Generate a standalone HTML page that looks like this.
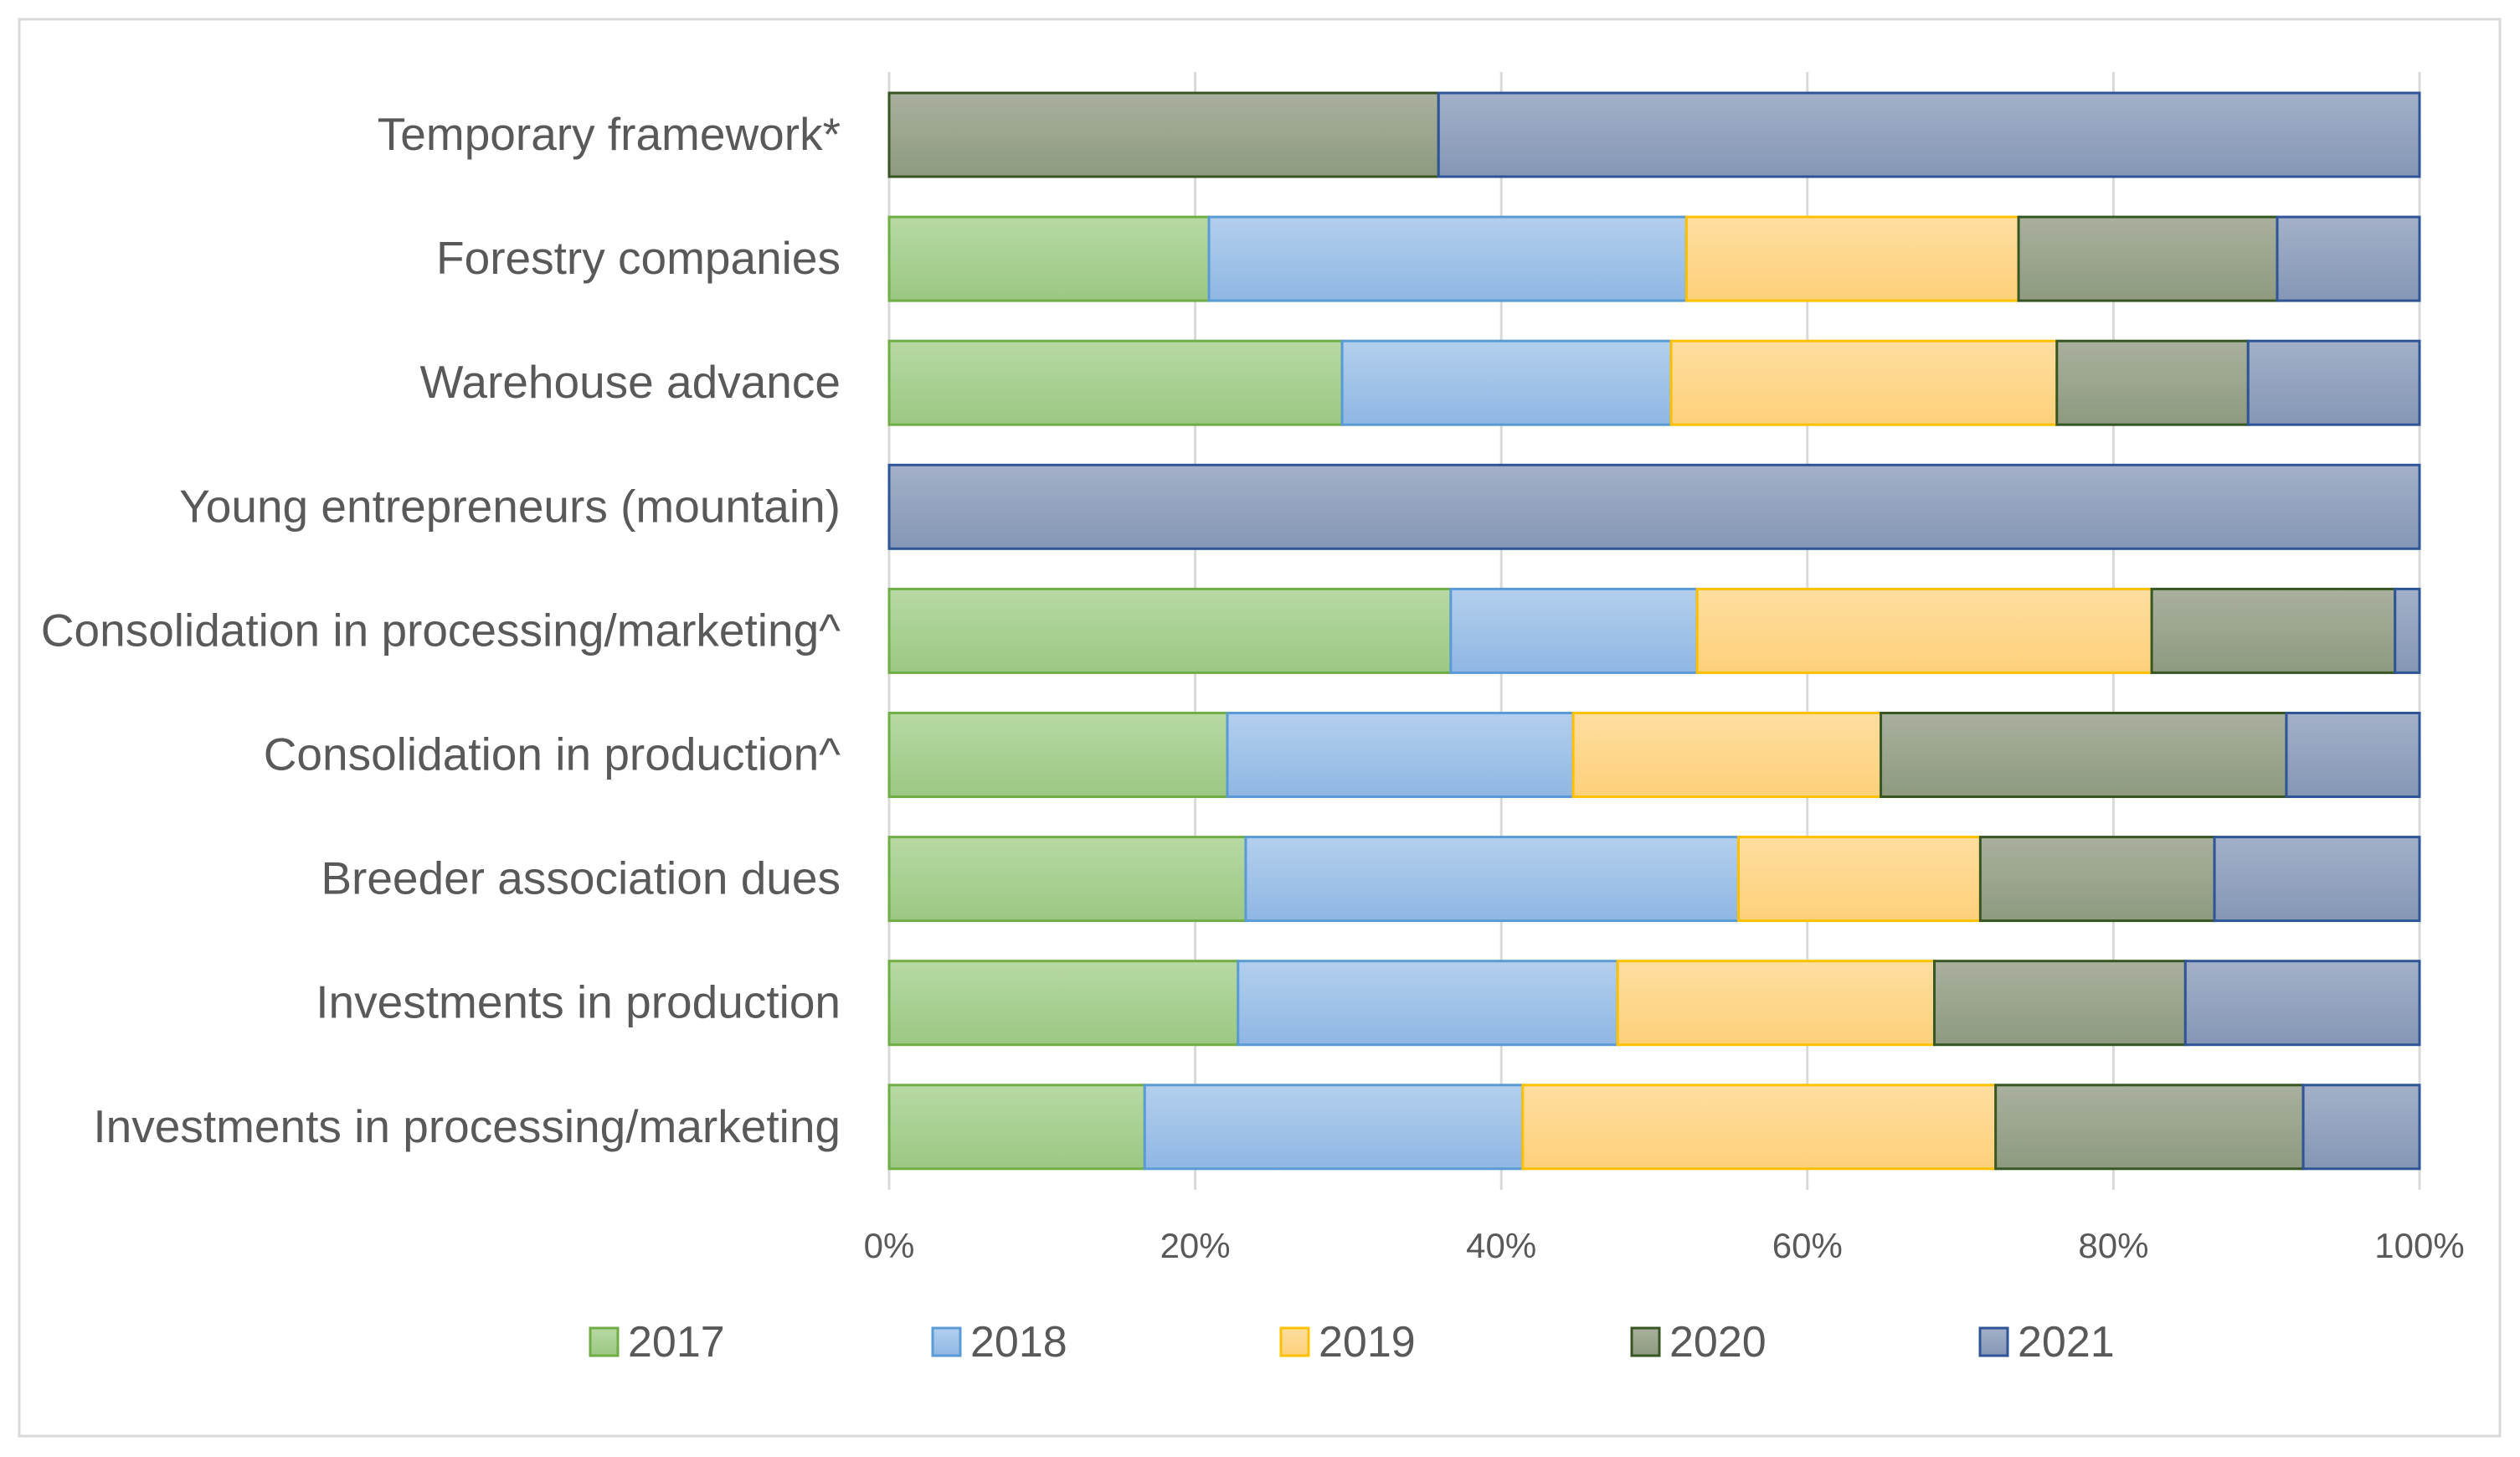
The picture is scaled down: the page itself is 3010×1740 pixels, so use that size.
<!DOCTYPE html>
<html><head><meta charset="utf-8"><style>
html,body{margin:0;padding:0;background:#fff;}
svg{display:block;font-family:"Liberation Sans",sans-serif;}
</style></head><body>
<svg id="chart" width="3010" height="1740" viewBox="0 0 3010 1740">
<defs>
<linearGradient id="g0" x1="0" y1="0" x2="0" y2="1"><stop offset="0" stop-color="#b7d9a3"/><stop offset="1" stop-color="#9bc883"/></linearGradient>
<linearGradient id="g1" x1="0" y1="0" x2="0" y2="1"><stop offset="0" stop-color="#b3cfee"/><stop offset="1" stop-color="#8fb7e3"/></linearGradient>
<linearGradient id="g2" x1="0" y1="0" x2="0" y2="1"><stop offset="0" stop-color="#ffdea0"/><stop offset="1" stop-color="#fdd07a"/></linearGradient>
<linearGradient id="g3" x1="0" y1="0" x2="0" y2="1"><stop offset="0" stop-color="#a9b09e"/><stop offset="1" stop-color="#8e9a80"/></linearGradient>
<linearGradient id="g4" x1="0" y1="0" x2="0" y2="1"><stop offset="0" stop-color="#a3b0c8"/><stop offset="1" stop-color="#8597b6"/></linearGradient>
</defs>
<rect x="23" y="23" width="2963" height="1692" fill="#fff" stroke="#d9d9d9" stroke-width="3"/>
<g id="grid"></g><g id="bars"></g><g id="labels"></g><g id="ticks"></g><g id="legend"></g>
</svg>
<script>
const categories = ["Temporary framework*","Forestry companies","Warehouse advance","Young entrepreneurs (mountain)","Consolidation in processing/marketing^","Consolidation in production^","Breeder association dues","Investments in production","Investments in processing/marketing"];
const seriesNames = ["2017","2018","2019","2020","2021"];
const s2017 = [0,20.9,29.6,0,36.7,22.1,23.3,22.8,16.7];
const s2018 = [0,31.2,21.5,0,16.1,22.6,32.2,24.8,24.7];
const s2019 = [0,21.7,25.2,0,29.7,20.1,15.8,20.7,30.9];
const s2020 = [35.9,16.9,12.5,0,15.9,26.5,15.3,16.4,20.1];
const s2021 = [64.1,9.3,11.2,100,1.6,8.7,13.4,15.3,7.6];
const tickLabels = ["0%","20%","40%","60%","80%","100%"];
const tickValues = [0,20,40,60,80,100];

const NS="http://www.w3.org/2000/svg";
const X0=1062,X1=2890,TOP=86,BOT=1421,Y0=161,STEP=148.1,BH=100;
const fills=["url(#g0)","url(#g1)","url(#g2)","url(#g3)","url(#g4)"];
const strokes=["#70ad47","#5b9bd5","#ffc000","#375623","#2f5597"];
const series=[s2017,s2018,s2019,s2020,s2021];
function xs(v){return X0+(X1-X0)*v/100;}
function ys(i){return Y0+i*STEP;}
function mk(tag,attrs,parent){const e=document.createElementNS(NS,tag);for(const k in attrs)e.setAttribute(k,attrs[k]);parent.appendChild(e);return e;}
const grid=document.getElementById('grid'),bars=document.getElementById('bars'),labels=document.getElementById('labels'),ticks=document.getElementById('ticks'),legend=document.getElementById('legend');
tickValues.forEach((v,i)=>{
  const l=mk('line',{x1:xs(v),x2:xs(v),y1:TOP,y2:BOT,stroke:'#d9d9d9','stroke-width':3},grid);
  
  
  const t=mk('text',{x:xs(v),y:1502,'text-anchor':'middle','font-size':42,fill:'#595959'},ticks);
  t.textContent=tickLabels[i];
  
  
});
categories.forEach((c,i)=>{
  const t=mk('text',{x:1004,y:ys(i)+18,'text-anchor':'end','font-size':55,fill:'#595959'},labels);
  t.textContent=c;
  
  
  let cum=0;
  series.forEach((s,j)=>{
    const v=s[i];
    if(v>0){
      const r=mk('rect',{x:xs(cum),y:ys(i)-BH/2,width:xs(cum+v)-xs(cum),height:BH,fill:fills[j],stroke:strokes[j],'stroke-width':3},bars);
      
      
    }
    cum+=v;
  });
});
const legX=[705,1114,1530,1949,2365];
seriesNames.forEach((n,j)=>{
  const r=mk('rect',{x:legX[j],y:1586,width:33,height:33,fill:fills[j],stroke:strokes[j],'stroke-width':3},legend);
  
  
  const t=mk('text',{x:legX[j]+45,y:1620,'font-size':52,fill:'#595959'},legend);
  t.textContent=n;
  
  
});
</script>
</body></html>
